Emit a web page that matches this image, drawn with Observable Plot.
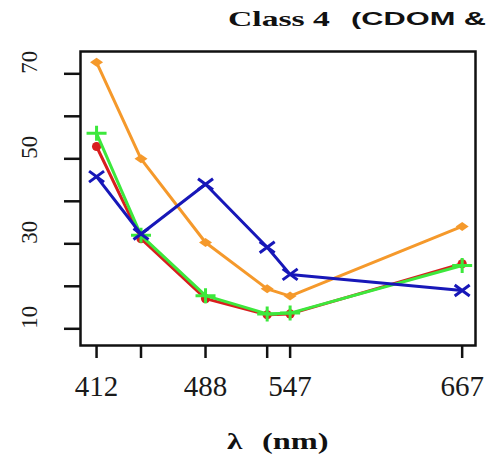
<!DOCTYPE html>
<html>
<head>
<meta charset="utf-8">
<script src="https://cdn.jsdelivr.net/npm/d3@7"></script>
<script src="https://cdn.jsdelivr.net/npm/@observablehq/plot@0.6"></script>
<style>
  html, body { margin: 0; padding: 0; background: #fff; overflow: hidden; }
  #wrap { position: relative; width: 491px; height: 457px; overflow: hidden; }
  #wrap svg { position: absolute; left: 0; top: 0; }
  .t { position: absolute; white-space: nowrap; line-height: 1; display: inline-block; color: #111; }
</style>
</head>
<body>
<div id="wrap">
  <div class="t" id="t1" style="left:228px; top:6px; font: bold 22px 'Liberation Serif', serif; transform: scaleX(1.53); transform-origin: left top;">Class 4</div>
  <div class="t" id="t2" style="left:351px; top:8px; font: bold 19px 'Liberation Sans', Arial, sans-serif; transform: scaleX(1.62); transform-origin: left top;">(CDOM &amp; </div>
  <div class="t" id="xt1" style="left:227px; top:428px; font: bold 24px 'Liberation Serif', serif; transform: scaleX(1.3); transform-origin: left top;">λ</div>
  <div class="t" id="xt2" style="left:262px; top:428px; font: bold 24px 'Liberation Serif', serif; transform: scaleX(1.35); transform-origin: left top;">(nm)</div>
</div>
<script>
const wavelengths = [412, 443, 488, 531, 547, 667];
const xTickLabels = [412, 488, 547, 667];
const yTicks = [10, 20, 30, 40, 50, 60, 70];
const yTickLabels = [10, 30, 50, 70];

const orangeVals = [72.7, 50.0, 30.3, 19.4, 17.7, 34.1];
const blueVals   = [45.8, 32.3, 44.0, 29.2, 22.8, 19.0];
const redVals    = [52.9, 31.2, 17.1, 13.3, 13.5, 25.3];
const greenVals  = [56.0, 32.0, 17.8, 13.5, 13.7, 24.9];

const toRows = (vals) => wavelengths.map((w, i) => ({w, v: vals[i]}));

const wideDiamond = {draw(ctx) { ctx.moveTo(-6.5, 0); ctx.lineTo(0, -4.5); ctx.lineTo(6.5, 0); ctx.lineTo(0, 4.5); ctx.closePath(); }};
const wideX = {draw(ctx) { ctx.moveTo(-7.5, -5.5); ctx.lineTo(7.5, 5.5); ctx.moveTo(-7.5, 5.5); ctx.lineTo(7.5, -5.5); }};
const widePlus = {draw(ctx) { ctx.moveTo(-10, 0); ctx.lineTo(10, 0); ctx.moveTo(0, -7.5); ctx.lineTo(0, 7.5); }};
const circ = {draw(ctx) { ctx.moveTo(4.6, 0); ctx.arc(0, 0, 4.6, 0, 2 * Math.PI); }};

const cOrange = "#F5992B", cBlue = "#1717B8", cRed = "#D81E1E", cGreen = "#3CE83C";
const lw = 3;

const plot = Plot.plot({
  width: 491, height: 457,
  marginLeft: 80, marginRight: 16, marginTop: 51, marginBottom: 112,
  style: {background: "transparent"},
  x: {type: "linear", domain: [400.8, 676.3], axis: null},
  y: {type: "linear", domain: [6.07, 75.25], axis: null},
  marks: [
    Plot.axisY({ticks: yTicks, tickSize: 16, tickFormat: () => "", stroke: "#111", strokeWidth: 2.5, label: null}),
    Plot.text(yTickLabels, {y: d => d, text: d => String(d), frameAnchor: "left", dx: -51, rotate: -90,
      fontSize: 23, fontFamily: "'Liberation Serif', serif", fill: "#1a1a1a"}),
    Plot.axisX({ticks: wavelengths, tickSize: 13, tickPadding: 17, stroke: "#111", strokeWidth: 2.5,
      tickFormat: d => xTickLabels.includes(d) ? String(d) : "", label: null,
      fontSize: 29, fontFamily: "'Liberation Serif', serif", fill: "#1a1a1a"}),
    Plot.line(toRows(redVals), {x: "w", y: "v", stroke: cRed, strokeWidth: lw}),
    Plot.dot(toRows(redVals), {x: "w", y: "v", symbol: circ, fill: cRed, stroke: "none"}),
    Plot.line(toRows(greenVals), {x: "w", y: "v", stroke: cGreen, strokeWidth: lw}),
    Plot.dot(toRows(greenVals), {x: "w", y: "v", symbol: widePlus, stroke: cGreen, strokeWidth: 3, fill: "none"}),
    Plot.line(toRows(orangeVals), {x: "w", y: "v", stroke: cOrange, strokeWidth: lw}),
    Plot.dot(toRows(orangeVals), {x: "w", y: "v", symbol: wideDiamond, fill: cOrange, stroke: "none"}),
    Plot.line(toRows(blueVals), {x: "w", y: "v", stroke: cBlue, strokeWidth: lw}),
    Plot.dot(toRows(blueVals), {x: "w", y: "v", symbol: wideX, stroke: cBlue, strokeWidth: 3, fill: "none"}),
    Plot.frame({stroke: "#111", strokeWidth: 2.5})
  ]
});
document.getElementById("wrap").prepend(plot);
</script>
</body>
</html>
